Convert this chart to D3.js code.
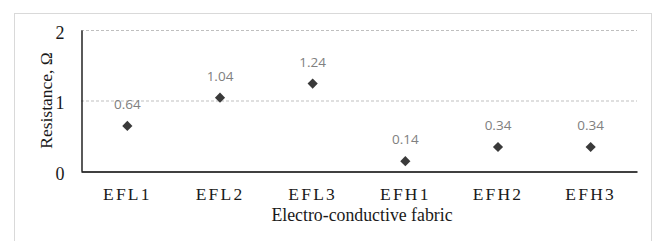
<!DOCTYPE html>
<html><head><meta charset="utf-8">
<script src="https://cdn.jsdelivr.net/npm/d3@7"></script>
<style>body{margin:0;background:#fff}</style>
</head><body>
<svg id="c" width="659" height="241"></svg>
<script>
const categories = ["EFL1","EFL2","EFL3","EFH1","EFH2","EFH3"];
const values = [0.64, 1.04, 1.24, 0.14, 0.34, 0.34];
const yTicks = [0, 1, 2];
const yTitle = "Resistance, Ω";
const xTitle = "Electro-conductive fabric";

const svg = d3.select("#c");
svg.append("rect").attr("x",14.5).attr("y",13.5).attr("width",637).attr("height",240)
  .attr("fill","#fff").attr("stroke","#d9d9d9");

const m = {l:81, r:637, t:30, b:171};
const x = d3.scaleBand().domain(categories).range([m.l, m.r]);
const y = d3.scaleLinear().domain([0,2]).range([m.b, m.t]);

// gridlines
svg.append("g").selectAll("line").data(yTicks.filter(d=>d>0)).join("line")
  .attr("x1",m.l).attr("x2",m.r).attr("y1",d=>y(d)+0.5).attr("y2",d=>y(d)+0.5)
  .attr("stroke","#bfbfbf").attr("stroke-dasharray","3,2").attr("stroke-width",1);

// y axis
const ya = svg.append("g").attr("transform",`translate(${m.l+0.5},0)`)
  .call(d3.axisLeft(y).tickValues(yTicks).tickSize(0).tickPadding(17).tickFormat(d3.format("d")));
ya.select(".domain").attr("stroke","#000").attr("stroke-width",1.3);
ya.selectAll("text").attr("font-family","Liberation Serif").attr("font-size",18)
  .attr("fill","#1a1a1a").attr("dy","0.45em");

// x axis
const xa = svg.append("g").attr("transform",`translate(0,${m.b+0.5})`)
  .call(d3.axisBottom(x).tickSize(0).tickPadding(16));
xa.select(".domain").attr("stroke","#000").attr("stroke-width",1.3);
xa.selectAll("text").attr("font-family","Liberation Serif").attr("font-size",17.5)
  .attr("letter-spacing","2.2px").attr("fill","#1a1a1a");

// markers
const diamond = d3.symbol().type(d3.symbolDiamond2).size(66);
svg.append("g").selectAll("path").data(values).join("path")
  .attr("d", diamond)
  .attr("transform",(d,i)=>`translate(${x(categories[i])+x.bandwidth()/2},${y(d)})`)
  .attr("fill","#3a3a3a");

// data labels
svg.append("g").selectAll("text").data(values).join("text")
  .attr("x",(d,i)=>x(categories[i])+x.bandwidth()/2)
  .attr("y",d=>y(d)-17)
  .attr("text-anchor","middle")
  .attr("font-family","Open Sans").attr("font-size",13.5)
  .attr("fill","#808080")
  .text(d=>d3.format(".2f")(d));

// titles
svg.append("text").attr("transform",`translate(52,${(m.t+m.b)/2}) rotate(-90)`)
  .attr("text-anchor","middle").attr("font-family","Liberation Serif").attr("font-size",17.5)
  .attr("fill","#1a1a1a").text(yTitle);
svg.append("text").attr("x",362).attr("y",221)
  .attr("text-anchor","middle").attr("font-family","Liberation Serif").attr("font-size",17.8)
  .attr("fill","#1a1a1a").text(xTitle);
</script>
</body></html>
